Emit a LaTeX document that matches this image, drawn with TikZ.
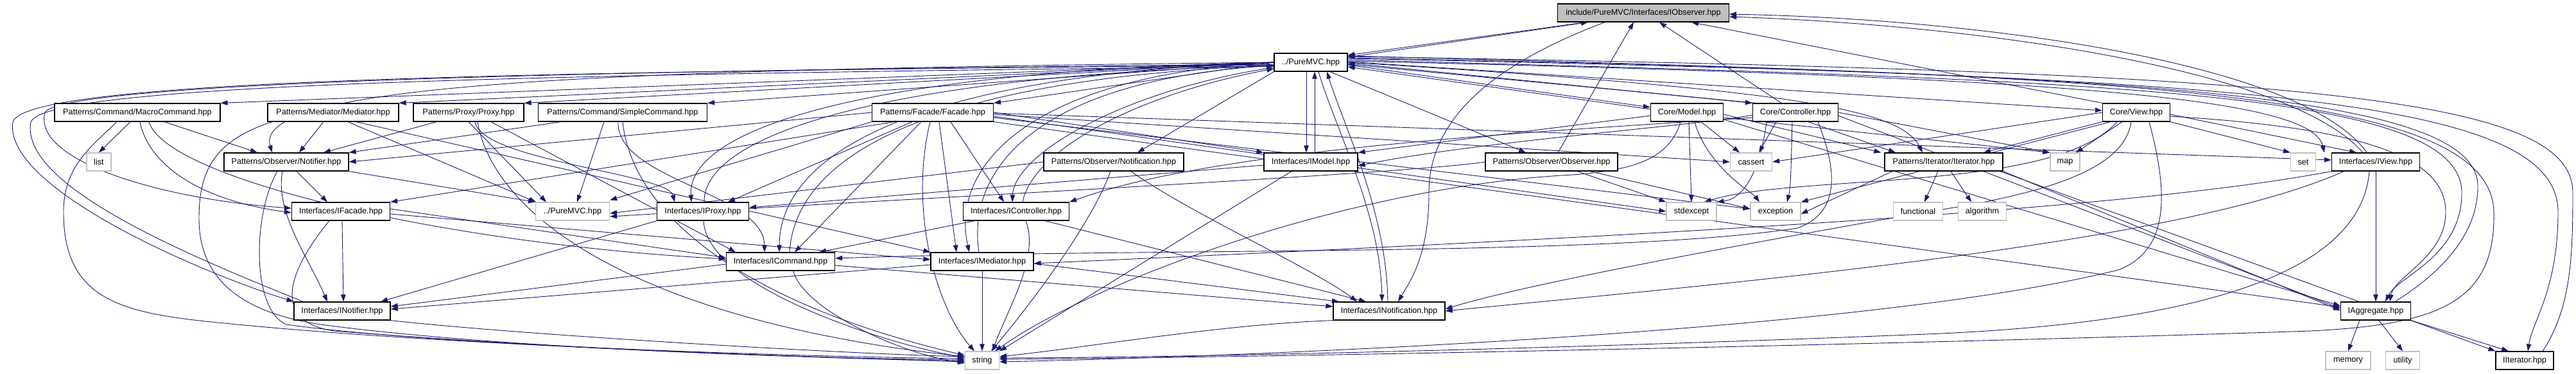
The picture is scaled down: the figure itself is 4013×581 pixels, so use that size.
\documentclass[tikz,border=0pt]{standalone}
\usepackage{fontspec}
\setmainfont{Liberation Sans}
\usetikzlibrary{arrows.meta,backgrounds}
\definecolor{edgeblue}{RGB}{25,25,112}
\definecolor{sysgray}{RGB}{191,191,191}

\begin{document}
\begin{tikzpicture}[x=1pt,y=-1pt,
  file/.style={draw=black,line width=1.2pt,fill=white,minimum height=28pt,inner sep=1pt,font=\fontsize{12.7}{14}\selectfont},
  sys/.style={file,draw=sysgray},
  root/.style={file,fill=sysgray},
  dep/.style={draw=edgeblue,line width=0.9pt,-{Triangle[length=11pt,width=7.5pt]}}]
\useasboundingbox (0,0) rectangle (4013,581);
\node[root,minimum width=267pt] (obs) at (2560,20) {include/PureMVC/Interfaces/IObserver.hpp};
\node[file,minimum width=114pt] (pmvc) at (2042,97) {../PureMVC.hpp};
\node[file,minimum width=258pt] (macro) at (214,175) {Patterns/Command/MacroCommand.hpp};
\node[file,minimum width=204pt] (medpat) at (519,175) {Patterns/Mediator/Mediator.hpp};
\node[file,minimum width=172pt] (proxypat) at (730,175) {Patterns/Proxy/Proxy.hpp};
\node[file,minimum width=263pt] (simple) at (970,175) {Patterns/Command/SimpleCommand.hpp};
\node[file,minimum width=189pt] (facadepat) at (1453,175) {Patterns/Facade/Facade.hpp};
\node[file,minimum width=113pt] (cmodel) at (2628,175) {Core/Model.hpp};
\node[file,minimum width=133pt] (cctrl) at (2797,175) {Core/Controller.hpp};
\node[file,minimum width=105pt] (cview) at (3328,175) {Core/View.hpp};
\node[sys,minimum width=38pt] (list) at (154,252) {list};
\node[file,minimum width=194pt] (notifierpat) at (446,252) {Patterns/Observer/Notifier.hpp};
\node[file,minimum width=218pt] (notifpat) at (1735,252) {Patterns/Observer/Notification.hpp};
\node[file,minimum width=146pt] (imodel) at (2042,252) {Interfaces/IModel.hpp};
\node[file,minimum width=206pt] (observerpat) at (2417,252) {Patterns/Observer/Observer.hpp};
\node[sys,minimum width=65pt] (cassert) at (2728,252) {cassert};
\node[file,minimum width=184pt] (iterpat) at (3028,252) {Patterns/Iterator/Iterator.hpp};
\node[sys,minimum width=46pt] (map) at (3217,252) {map};
\node[sys,minimum width=39pt] (set) at (3588,252) {set};
\node[file,minimum width=137pt] (iview) at (3701,252) {Interfaces/IView.hpp};
\node[file,minimum width=153pt] (ifacade) at (531,329) {Interfaces/IFacade.hpp};
\node[sys,minimum width=115pt] (pmvcx) at (892,329) {../PureMVC.hpp};
\node[file,minimum width=143pt] (iproxy) at (1095,329) {Interfaces/IProxy.hpp};
\node[file,minimum width=165pt] (icontroller) at (1583,329) {Interfaces/IController.hpp};
\node[sys,minimum width=78pt] (stdexcept) at (2635,329) {stdexcept};
\node[sys,minimum width=78pt] (exception) at (2766,329) {exception};
\node[sys,minimum width=77pt] (functional) at (2988,329) {functional};
\node[sys,minimum width=75pt] (algorithm) at (3088,329) {algorithm};
\node[file,minimum width=169pt] (icommand) at (1216,407) {Interfaces/ICommand.hpp};
\node[file,minimum width=160pt] (imediator) at (1530,407) {Interfaces/IMediator.hpp};
\node[file,minimum width=150pt] (inotifier) at (533,484) {Interfaces/INotifier.hpp};
\node[file,minimum width=174pt] (inotification) at (2164,484) {Interfaces/INotification.hpp};
\node[file,minimum width=109pt] (iaggregate) at (3701,484) {IAggregate.hpp};
\node[sys,minimum width=53pt] (string) at (1530,561) {string};
\node[sys,minimum width=70pt] (memory) at (3658,561) {memory};
\node[sys,minimum width=53pt] (utility) at (3743,561) {utility};
\node[file,minimum width=90pt] (iterator) at (3933,561) {IIterator.hpp};
\begin{pgfonlayer}{background}
\fill[white] (0,0) rectangle (4013,581);
\draw[dep] ([xshift=-90]obs.south) -- ([yshift=11]pmvc.east);
\draw[dep] ([yshift=8]pmvc.east) -- ([xshift=-86]obs.south);
\draw[dep] ([xshift=-60]obs.south) .. controls (2300,110) and (2226,200) .. (2226,300) .. controls (2226,400) and (2195,440) .. ([xshift=14]inotification.north);
\draw[dep] ([xshift=10]observerpat.north) -- ([xshift=-15]obs.south);
\draw[dep] ([xshift=-22]cctrl.north) -- ([xshift=25]obs.south);
\draw[dep] (cview.north west) -- ([xshift=75]obs.south);
\draw[dep] ([xshift=-20]iview.north) .. controls (3570,110) and (3100,40) .. ([yshift=-6]obs.east);
\draw[dep] ([xshift=-14]iview.north) .. controls (3590,100) and (3100,30) .. ([yshift=-2]obs.east);
\draw[dep] (pmvc.west) -- (macro.north east);
\draw[dep] (pmvc.west) -- (medpat.north east);
\draw[dep] (pmvc.west) -- (proxypat.north east);
\draw[dep] (pmvc.west) -- (simple.north east);
\draw[dep] (pmvc.west) -- (facadepat.north east);
\draw[dep] (pmvc.south west) -- ([xshift=37]notifpat.north);
\draw[dep] ([xshift=-7]pmvc.south) -- ([xshift=-7]imodel.north);
\draw[dep] ([xshift=6]imodel.north) -- ([xshift=6]pmvc.south);
\draw[dep] ([xshift=30]pmvc.south) -- ([xshift=-40]observerpat.north);
\draw[dep] ([yshift=-4]pmvc.east) -- ([yshift=8]cmodel.west);
\draw[dep] ([yshift=5]cmodel.west) -- ([yshift=-7]pmvc.east);
\draw[dep] ([yshift=-1]pmvc.east) -- (cctrl.north west);
\draw[dep] ([xshift=6]cctrl.north west) -- ([yshift=-3]pmvc.east);
\draw[dep] ([yshift=1]pmvc.east) -- ([yshift=3]cview.west);
\draw[dep] (pmvc.east) .. controls (2800,140) and (2960,170) .. ([xshift=-33]iterpat.north);
\draw[dep] ([yshift=2]pmvc.east) .. controls (3200,120) and (3600,150) .. ([xshift=-80]iview.north);
\draw[dep] ([yshift=4]pmvc.east) .. controls (3300,125) and (3835,140) .. (3835,300) .. controls (3835,400) and (3735,430) .. ([xshift=15]iaggregate.north);
\draw[dep] ([yshift=6]pmvc.east) .. controls (3500,120) and (3985,150) .. (3985,330) .. controls (3985,450) and (3945,500) .. ([xshift=5]iterator.north);
\draw[dep] ([xshift=28]iterator.north) .. controls (4005,480) and (4008,400) .. (4008,300) .. controls (4008,150) and (3600,112) .. ([yshift=9]pmvc.east);
\draw[dep] ([xshift=30]iaggregate.north) .. controls (3810,420) and (3860,360) .. (3860,290) .. controls (3860,140) and (3300,118) .. ([yshift=10]pmvc.east);
\draw[dep] ([yshift=7]pmvc.east) .. controls (3400,115) and (3880,150) .. (3885,330) .. controls (3888,470) and (3800,505) .. (3600,515) .. controls (3000,535) and (2000,556) .. ([yshift=2]string.east);
\draw[dep] (pmvc.west) .. controls (1000,108) and (390,125) .. ([xshift=-22]notifierpat.north);
\draw[dep] ([yshift=-4]pmvc.west) .. controls (900,112) and (40,120) .. (20,190) .. controls (5,290) and (300,420) .. (inotifier.north west);
\draw[dep] ([xshift=15]inotifier.north west) .. controls (300,400) and (30,290) .. (48,190) .. controls (70,128) and (900,116) .. ([yshift=-6]pmvc.west);
\draw[dep] ([yshift=-3]pmvc.west) .. controls (900,110) and (100,128) .. (70,175) .. controls (50,250) and (250,310) .. ([yshift=5]ifacade.west);
\draw[dep] (pmvc.west) .. controls (1350,110) and (1070,200) .. ([xshift=-18]iproxy.north);
\draw[dep] ([xshift=2]iproxy.north) .. controls (1095,210) and (1380,118) .. ([yshift=-5]pmvc.west);
\draw[dep] (pmvc.west) .. controls (1450,115) and (1215,230) .. ([xshift=-2]icommand.north);
\draw[dep] ([xshift=14]icommand.north) .. controls (1240,230) and (1480,122) .. ([yshift=-5]pmvc.west);
\draw[dep] (pmvc.west) .. controls (1600,118) and (1480,260) .. ([xshift=-20]imediator.north);
\draw[dep] ([xshift=-5]imediator.north) .. controls (1505,260) and (1620,125) .. ([yshift=-5]pmvc.west);
\draw[dep] ([yshift=-8]pmvc.west) .. controls (1750,140) and (1580,240) .. ([xshift=-6]icontroller.north);
\draw[dep] ([xshift=10]icontroller.north) .. controls (1610,230) and (1780,145) .. ([yshift=-10]pmvc.west);
\draw[dep] ([xshift=12]pmvc.south) .. controls (2080,200) and (2150,330) .. ([xshift=-11]inotification.north);
\draw[dep] ([xshift=-2]inotification.north) .. controls (2160,330) and (2095,200) .. ([xshift=25]pmvc.south);
\draw[dep] ([xshift=-11]macro.south) -- (list.north);
\draw[dep] ([xshift=42]macro.south) -- ([xshift=-45]notifierpat.north);
\draw[dep] ([xshift=-32]macro.south) .. controls (140,230) and (99,260) .. (99,330) .. controls (99,460) and (180,485) .. (320,500) .. controls (700,540) and (1300,556) .. ([yshift=3]string.west);
\draw[dep] ([xshift=4]macro.south) .. controls (230,250) and (300,310) .. ([yshift=-2]ifacade.west);
\draw[dep] ([xshift=18]macro.south) .. controls (260,280) and (700,380) .. ([yshift=4]icommand.west);
\draw[dep] ([xshift=-15]medpat.south) -- ([xshift=20]notifierpat.north);
\draw[dep] ([xshift=23]medpat.south) -- ([xshift=-57]pmvcx.north);
\draw[dep] ([xshift=36]medpat.south) -- (imediator.north west);
\draw[dep] ([xshift=-95]medpat.south) .. controls (330,220) and (310,270) .. (310,340) .. controls (310,450) and (400,490) .. (500,505) .. controls (800,545) and (1300,558) .. ([yshift=1]string.west);
\draw[dep] ([xshift=-50]proxypat.south) -- ([xshift=58]notifierpat.north);
\draw[dep] (proxypat.south) -- ([xshift=-41]pmvcx.north);
\draw[dep] ([xshift=10]proxypat.south) .. controls (750,250) and (1040,270) .. ([xshift=-44]iproxy.north);
\draw[dep] ([xshift=35]proxypat.south) -- ([xshift=-70]icommand.north);
\draw[dep] ([xshift=14]proxypat.south) .. controls (770,340) and (1000,500) .. ([yshift=6]string.west);
\draw[dep] ([xshift=-96]simple.south) -- (notifierpat.north east);
\draw[dep] ([xshift=-29]simple.south) -- ([xshift=7]pmvcx.north);
\draw[dep] ([xshift=-7]simple.south) .. controls (960,280) and (1190,300) .. ([xshift=-25]icommand.north);
\draw[dep] (simple.south) .. controls (985,330) and (1150,470) .. ([yshift=8]string.west);
\draw[dep] ([xshift=-60]facadepat.south) -- (ifacade.north east);
\draw[dep] (facadepat.south west) -- ([yshift=3]pmvcx.north east);
\draw[dep] (facadepat.west) -- (notifierpat.east);
\draw[dep] ([xshift=-32]facadepat.south) -- ([xshift=39]iproxy.north);
\draw[dep] ([xshift=-18]facadepat.south) -- ([xshift=22]icommand.north);
\draw[dep] ([xshift=10]facadepat.south) -- ([xshift=-40]imediator.north);
\draw[dep] ([xshift=28]facadepat.south) -- ([xshift=-19]icontroller.north);
\draw[dep] ([xshift=-4]facadepat.south) .. controls (1415,330) and (1460,480) .. ([xshift=-12]string.north);
\draw[dep] (facadepat.east) -- (imodel.north west);
\draw[dep] ([yshift=-3]facadepat.east) -- (cassert.west);
\draw[dep] ([yshift=-6]facadepat.east) -- (stdexcept.west);
\draw[dep] ([yshift=-8]facadepat.east) -- ([yshift=4]exception.west);
\draw[dep] ([yshift=-1]facadepat.east) -- ([yshift=3]iview.west);
\draw[dep] (facadepat.south east) -- ([yshift=6]iaggregate.west);
\draw[dep] ([xshift=16]notifierpat.south) -- ([xshift=-21]ifacade.north);
\draw[dep] ([xshift=-6]notifierpat.south) .. controls (428,330) and (480,400) .. ([xshift=-23]inotifier.north);
\draw[dep] ([xshift=-14]notifierpat.south) .. controls (395,330) and (390,480) .. (446,505) .. controls (700,540) and (1300,556) .. ([yshift=-2]string.west);
\draw[dep] (notifierpat.south east) -- (pmvcx.north west);
\draw[dep] ([xshift=27]notifpat.south) .. controls (1850,330) and (2050,420) .. ([xshift=-50]inotification.north);
\draw[dep] ([xshift=-5]notifpat.south) .. controls (1700,350) and (1600,480) .. ([xshift=14]string.north);
\draw[dep] (notifpat.west) -- ([yshift=-3]pmvcx.east);
\draw[dep] ([xshift=40]observerpat.south) -- (stdexcept.north west);
\draw[dep] ([xshift=60]observerpat.south) -- ([yshift=4]exception.west);
\draw[dep] (observerpat.west) .. controls (2200,270) and (1400,310) .. ([yshift=-8]pmvcx.east);
\draw[dep] ([yshift=-5]imodel.west) -- ([yshift=6]iproxy.east);
\draw[dep] ([xshift=-30]imodel.south) -- (string.north east);
\draw[dep] ([yshift=-5]cmodel.west) -- (imodel.north east);
\draw[dep] ([xshift=22]cmodel.south) -- ([xshift=-18]cassert.north);
\draw[dep] ([xshift=3]cmodel.south) -- (stdexcept.north);
\draw[dep] ([xshift=12]cmodel.south) .. controls (2660,260) and (2730,300) .. ([xshift=-25]exception.north);
\draw[dep] ([yshift=-3]cmodel.east) -- ([xshift=-5]iterpat.north west);
\draw[dep] ([yshift=-8]cmodel.east) -- (map.north west);
\draw[dep] ([yshift=-11]cmodel.east) -- ([yshift=8]iaggregate.west);
\draw[dep] ([xshift=-10]cmodel.south) .. controls (2600,250) and (2540,265) .. (2450,272) .. controls (2100,290) and (1700,440) .. ([xshift=20]string.north);
\draw[dep] ([xshift=-30]cctrl.south) -- ([xshift=12]cassert.north);
\draw[dep] ([xshift=-45]cctrl.south) .. controls (2740,280) and (2710,310) .. (stdexcept.north east);
\draw[dep] ([xshift=-5]cctrl.south) .. controls (2790,260) and (2790,290) .. ([xshift=18]exception.north);
\draw[dep] ([xshift=20]cctrl.south) -- ([xshift=-75]iterpat.north);
\draw[dep] (cctrl.east) -- (map.north west);
\draw[dep] ([yshift=-5]cctrl.east) -- ([yshift=4]iaggregate.west);
\draw[dep] ([yshift=-4]cctrl.west) .. controls (2650,195) and (2300,220) .. ([yshift=-6]imodel.east);
\draw[dep] ([yshift=-8]cctrl.west) .. controls (2400,205) and (1900,230) .. (icontroller.north east);
\draw[dep] ([xshift=35]cctrl.south) .. controls (2860,260) and (2870,330) .. (2800,355) .. controls (2500,400) and (1800,385) .. ([yshift=5]icommand.east);
\draw[dep] (cview.south west) -- ([xshift=62]iterpat.north);
\draw[dep] ([xshift=-22]cview.south) -- ([xshift=17]map.north);
\draw[dep] (cview.south east) -- (set.north west);
\draw[dep] ([yshift=-3]cview.east) -- ([xshift=-30]iview.north);
\draw[dep] (cview.west) -- (cassert.east);
\draw[dep] ([xshift=-40]cview.south) -- (exception.north east);
\draw[dep] ([xshift=-30]cview.south) .. controls (3200,300) and (2800,270) .. ([xshift=20]stdexcept.north);
\draw[dep] ([xshift=-8]cview.south) .. controls (3310,260) and (3200,300) .. (3000,330) .. controls (2600,400) and (2350,450) .. ([yshift=3]inotification.east);
\draw[dep] ([xshift=20]cview.south) .. controls (3378,300) and (3380,390) .. (3300,420) .. controls (2900,520) and (1900,556) .. ([yshift=-2]string.east);
\draw[dep] ([yshift=-6]cview.east) .. controls (3700,200) and (3810,250) .. (3810,330) .. controls (3810,400) and (3730,430) .. ([xshift=22]iaggregate.north);
\draw[dep] ([xshift=-9]iterpat.south) -- ([xshift=10]functional.north);
\draw[dep] ([xshift=11]iterpat.south) -- ([xshift=-17]algorithm.north);
\draw[dep] ([xshift=88]iterpat.south) -- (iterator.north west);
\draw[dep] ([xshift=-80]iterpat.south) -- ([yshift=-4]exception.east);
\draw[dep] (iterpat.south east) -- ([yshift=1]iaggregate.west);
\draw[dep] (iview.south) -- (iaggregate.north);
\draw[dep] (iview.south west) .. controls (3300,330) and (2500,370) .. ([yshift=-3]imediator.east);
\draw[dep] ([xshift=-10]iview.south) .. controls (3680,400) and (3500,500) .. (3000,520) .. controls (2500,540) and (1900,556) .. ([yshift=4]string.east);
\draw[dep] ([xshift=-50]iview.south) .. controls (3400,380) and (2700,440) .. (inotification.east);
\draw[dep] ([xshift=-25]iaggregate.south) -- (memory.north);
\draw[dep] ([xshift=5]iaggregate.south) -- (utility.north);
\draw[dep] (iaggregate.south east) -- ([xshift=-25]iterator.north);
\draw[dep] ([xshift=2]ifacade.south) -- ([xshift=2]inotifier.north);
\draw[dep] ([yshift=4]ifacade.east) -- ([yshift=6]icommand.west);
\draw[dep] ([yshift=-4]ifacade.east) -- ([yshift=3]imediator.west);
\draw[dep] ([xshift=-18]ifacade.south) .. controls (450,420) and (420,500) .. (520,515) .. controls (900,545) and (1300,558) .. ([yshift=-1]string.west);
\draw[dep] (iproxy.south west) -- ([xshift=60]inotifier.north);
\draw[dep] ([xshift=1]iproxy.south) .. controls (1100,450) and (1400,540) .. ([yshift=5]string.west);
\draw[dep] ([yshift=-4]icommand.west) -- ([yshift=7]inotifier.east);
\draw[dep] ([yshift=-6]icommand.east) -- ([yshift=7]inotification.west);
\draw[dep] ([xshift=20]icommand.south) .. controls (1250,480) and (1400,550) .. ([yshift=-4]string.west);
\draw[dep] ([yshift=-5]imediator.west) -- ([yshift=3]inotifier.east);
\draw[dep] ([yshift=-3]imediator.east) -- ([xshift=-78]inotification.north);
\draw[dep] (imediator.south) -- (string.north);
\draw[dep] ([xshift=-65]icontroller.south) -- ([xshift=60]icommand.north);
\draw[dep] ([xshift=45]icontroller.south) -- ([xshift=-36]inotification.north);
\draw[dep] ([xshift=15]icontroller.south) .. controls (1620,400) and (1570,480) .. ([xshift=16]string.north);
\draw[dep] (inotifier.south east) .. controls (800,520) and (1300,550) .. ([yshift=6]string.west);
\draw[dep] (inotification.south west) .. controls (1900,505) and (1700,540) .. ([yshift=6]string.east);
\end{pgfonlayer}
\end{tikzpicture}
\end{document}
